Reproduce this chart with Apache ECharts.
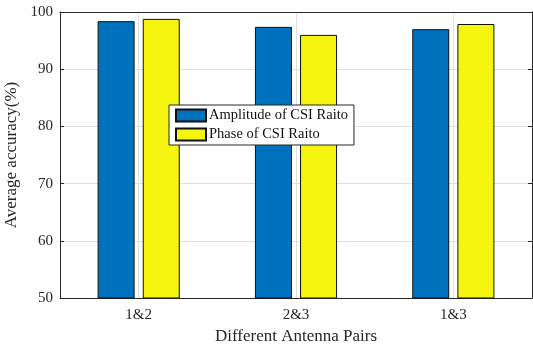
<!DOCTYPE html>
<html>
<head>
<meta charset="utf-8">
<script src="https://cdn.jsdelivr.net/npm/echarts@6/dist/echarts.min.js"></script>
<style>
html,body{margin:0;padding:0;background:#fff;}
#chart{width:533px;height:346px;}
</style>
</head>
<body>
<div id="chart"></div>
<script>
// data
var categories = ['1&2', '2&3', '1&3'];
var amplitude = [98.4, 97.4, 97.0];
var phase = [98.8, 96.0, 97.9];
var yTicks = [50, 60, 70, 80, 90, 100];

var font = 'Liberation Serif';
var ink = '#262626';

var myChart = echarts.init(document.getElementById('chart'));
myChart.setOption({
    backgroundColor: '#fff',
    animation: false,
    textStyle: { fontFamily: font, color: ink },
    grid: { left: 60, right: 1, top: 12, bottom: 48, outerBoundsMode: 'none', containLabel: false },
    legend: {
        orient: 'vertical',
        left: 169,
        top: 105,
        itemWidth: 30,
        itemHeight: 12,
        itemGap: 4,
        padding: [3, 6, 3, 6],
        borderColor: ink,
        borderWidth: 1,
        borderRadius: 0,
        backgroundColor: '#fff',
        icon: 'rect',
        textStyle: { fontFamily: font, fontSize: 14.5, color: '#111', padding: [0, 0, 0, -2] },
        data: ['Amplitude of CSI Raito', 'Phase of CSI Raito']
    },
    xAxis: [{
        type: 'category',
        data: categories,
        name: 'Different Antenna Pairs',
        nameLocation: 'middle',
        nameGap: 29,
        nameTextStyle: { fontFamily: font, fontSize: 17, color: ink },
        axisLine: { lineStyle: { color: ink, width: 1 } },
        axisTick: { inside: true, alignWithLabel: true, length: 4, lineStyle: { color: ink } },
        axisLabel: { fontFamily: font, fontSize: 15, color: ink, margin: 10 },
        splitLine: { show: true, alignWithLabel: true, lineStyle: { color: '#e0e0e0' } }
    }, {
        type: 'category',
        data: categories,
        position: 'top',
        axisLine: { lineStyle: { color: ink, width: 1 } },
        axisTick: { inside: true, alignWithLabel: true, length: 4, lineStyle: { color: ink } },
        axisLabel: { show: false },
        splitLine: { show: false }
    }],
    yAxis: [{
        type: 'value',
        min: yTicks[0],
        max: yTicks[yTicks.length - 1],
        interval: 10,
        name: 'Average accuracy(%)',
        nameLocation: 'middle',
        nameGap: 34,
        nameTextStyle: { fontFamily: font, fontSize: 17, color: ink },
        axisLine: { show: true, lineStyle: { color: ink, width: 1 } },
        axisTick: { show: true, inside: true, length: 4, lineStyle: { color: ink } },
        axisLabel: { fontFamily: font, fontSize: 15, color: ink, margin: 7 },
        splitLine: { show: true, lineStyle: { color: '#e0e0e0' } }
    }, {
        type: 'value',
        min: yTicks[0],
        max: yTicks[yTicks.length - 1],
        interval: 10,
        position: 'right',
        axisLine: { show: true, lineStyle: { color: ink, width: 1 } },
        axisTick: { show: true, inside: true, length: 4, lineStyle: { color: ink } },
        axisLabel: { show: false },
        splitLine: { show: false }
    }],
    series: [{
        name: 'Amplitude of CSI Raito',
        type: 'bar',
        barWidth: 37,
        barGap: '22%',
        itemStyle: { color: '#0072BD', borderColor: '#111', borderWidth: 1 },
        data: amplitude
    }, {
        name: 'Phase of CSI Raito',
        type: 'bar',
        barWidth: 37,
        barGap: '22%',
        itemStyle: { color: '#F5F50F', borderColor: '#111', borderWidth: 1 },
        data: phase
    }]
});
</script>
</body>
</html>
